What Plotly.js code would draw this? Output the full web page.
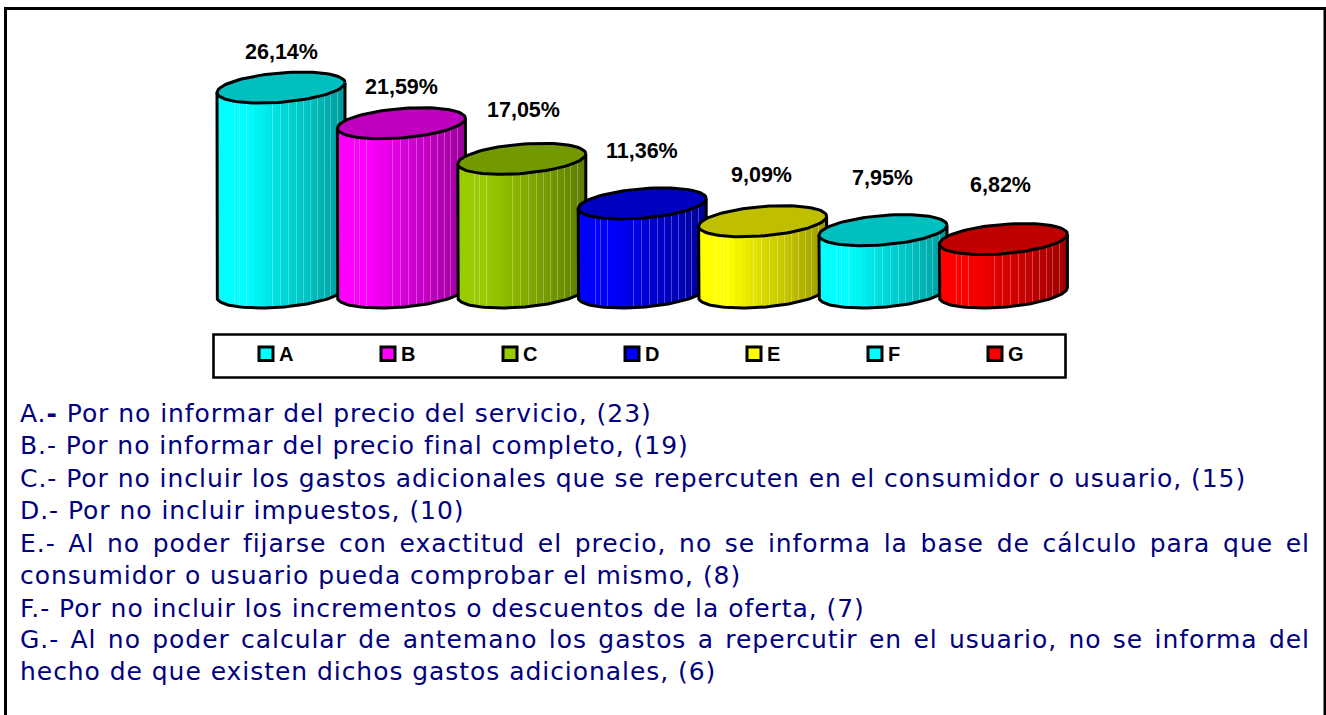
<!DOCTYPE html>
<html><head><meta charset="utf-8">
<script src="https://cdn.plot.ly/plotly-3.0.1.min.js"></script>
<style>
html,body{margin:0;padding:0;background:#fff;overflow:hidden}
#chart{width:1326px;height:715px}
</style></head><body><div id="chart"></div>
<script>
const categories = ["A","B","C","D","E","F","G"];
const percentages = [26.14,21.59,17.05,11.36,9.09,7.95,6.82];
const baseColors = [[0,255,255],[255,0,255],[153,204,0],[0,0,255],[255,255,0],[0,255,255],[255,0,0]];
const descriptions = [
 "A.<b>-</b> Por no informar del precio del servicio, (23)",
 "B.- Por no informar del precio final completo, (19)",
 "C.- Por no incluir los gastos adicionales que se repercuten en el consumidor o usuario, (15)",
 "D.- Por no incluir impuestos, (10)",
 "E.- Al no poder fijarse con exactitud el precio, no se informa la base de cálculo para que el",
 "consumidor o usuario pueda comprobar el mismo, (8)",
 "F.- Por no incluir los incrementos o descuentos de la oferta, (7)",
 "G.- Al no poder calcular de antemano los gastos a repercutir en el usuario, no se informa del",
 "hecho de que existen dichos gastos adicionales, (6)"
];
// layout constants
const W=1326,H=715,X0=281,DX=120.4,Y0=292.5,PY=7.84;
const A_PX=64,TILT=5,MINOR=14.7;
const labelLift=[36,36,49,52,46,52,54], labelNudge=[0,0,2,0,-1,-1,-3];
const textY=[413,445.3,478.3,510.3,543.3,575.3,608.3,639.3,671.3];
const justified=[4,7], textEnd=1309, textStart=19;
const stripeOffsets=[17,22,29,55,63,71,79,86,93,100,107,113,120];
const legendX=[258,380,502,624,746,867,987];

const a=A_PX/DX, tilt=TILT/PY, minor=MINOR/PY;
const rgb=c=>`rgb(${c.map(v=>Math.round(v)).join(",")})`;
const shade=(c,m)=>c.map(v=>v*m);
const traces=[];
categories.forEach((cat,i)=>{
  const yaxis=i===0?"y":"y"+(i+1), v=percentages[i], c=baseColors[i];
  const xs=[],bases=[],heights=[],cols=[];
  for(let p=0;p<2*A_PX;p++){
    const u=(p+.5)/(2*A_PX), co=2*u-1, si=Math.sqrt(1-co*co);
    xs.push(i+a*co);
    bases.push(tilt*co-minor*si);
    heights.push(v);
    const band=Math.floor(u*24)/24;
    let m=band<0.2?1:1-(band-0.2)*0.5;
    let col=shade(c,m);
    if(stripeOffsets.includes(p)) col=col.map(x=>x+(255-x)*0.28);
    cols.push(rgb(col));
  }
  traces.push({type:"bar",x:xs,y:heights,base:bases,width:1/DX,yaxis,
    marker:{color:cols,opacity:1,line:{width:0}},showlegend:false,hoverinfo:"skip",name:cat});
  const ox=[],oy=[],ex=[],ey=[];
  for(let k=0;k<=60;k++){
    const t=Math.PI*k/60, co=-Math.cos(t), si=Math.sin(t);
    ox.push(i+a*co); oy.push(tilt*co-minor*si);
  }
  for(let k=0;k<=90;k++){
    const t=2*Math.PI*k/90, co=Math.cos(t), si=Math.sin(t);
    ex.push(i+a*co); ey.push(v+tilt*co+minor*si);
  }
  traces.push({type:"scatter",mode:"lines",x:[i-a,...ox,i+a],y:[v-tilt,...oy,v+tilt],yaxis,
    line:{color:"#000",width:3},showlegend:false,hoverinfo:"skip"});
  traces.push({type:"scatter",mode:"lines",x:ex,y:ey,yaxis,fill:"toself",
    fillcolor:rgb(shade(c,0.75)),line:{color:"#000",width:3},showlegend:false,hoverinfo:"skip"});
});
const px=x=>x/W, py=y=>1-y/H;
const shapes=[
 {type:"path",xref:"paper",yref:"paper",path:`M ${px(5.5)} 0 L ${px(5.5)} ${py(8.5)} L ${px(1325)} ${py(8.5)} L ${px(1325)} 0`,line:{color:"#000",width:3}},
 {type:"rect",xref:"paper",yref:"paper",x0:px(213.5),x1:px(1065.5),y0:py(334.5),y1:py(377.5),line:{color:"#000",width:2.6},fillcolor:"#fff"}
];
const annotations=[];
categories.forEach((cat,i)=>{
  shapes.push({type:"rect",xref:"paper",yref:"paper",x0:px(legendX[i]+1),x1:px(legendX[i]+15),y0:py(347),y1:py(360.5),
    line:{color:"#000",width:3},fillcolor:rgb(baseColors[i])});
  annotations.push({xref:"paper",yref:"paper",x:px(legendX[i]+19),y:py(354),xanchor:"left",yanchor:"middle",showarrow:false,
    text:cat,font:{family:"Liberation Sans",size:20,color:"#000",weight:700}});
});
percentages.forEach((v,i)=>{
  annotations.push({x:i,y:v,xref:"x",yref:"y",yshift:labelLift[i],xshift:labelNudge[i],showarrow:false,
    text:v.toFixed(2).replace(".",",")+"%",font:{family:"Liberation Sans",size:21.5,color:"#000",weight:700}});
});
descriptions.forEach((d,i)=>{
  annotations.push({xref:"paper",yref:"paper",x:px(textStart-1),y:py(textY[i]),xanchor:"left",yanchor:"middle",align:"left",showarrow:false,
    text:d,font:{family:"DejaVu Sans",size:25,color:"#000080"}});
});
const xr=[-X0/DX,(W-X0)/DX], yr=[Y0/PY,-(H-Y0)/PY];
yr.reverse();
const layout={width:W,height:H,margin:{l:0,r:0,t:0,b:0},paper_bgcolor:"#fff",plot_bgcolor:"rgba(0,0,0,0)",
  barmode:"overlay",showlegend:false,shapes,annotations,
  xaxis:{range:xr,visible:false,fixedrange:true},
  yaxis:{range:yr,visible:false,fixedrange:true}};
categories.forEach((c,i)=>{ if(i>0) layout["yaxis"+(i+1)]={range:yr,visible:false,fixedrange:true,overlaying:"y"}; });
Plotly.newPlot("chart",traces,layout,{displayModeBar:false}).then(()=>{
  document.querySelectorAll(".annotation").forEach((g,idx)=>{
    const k=idx-categories.length-percentages.length;
    if(k<0) return;
    const t=g.querySelector("text");
    t.style.letterSpacing="0.95px";
    if(justified.includes(k)){
      const len=t.getComputedTextLength();
      const gaps=descriptions[k].split(" ").length-1;
      t.style.wordSpacing=((textEnd-textStart-len)/gaps)+"px";
    }
  });
});
</script></body></html>
